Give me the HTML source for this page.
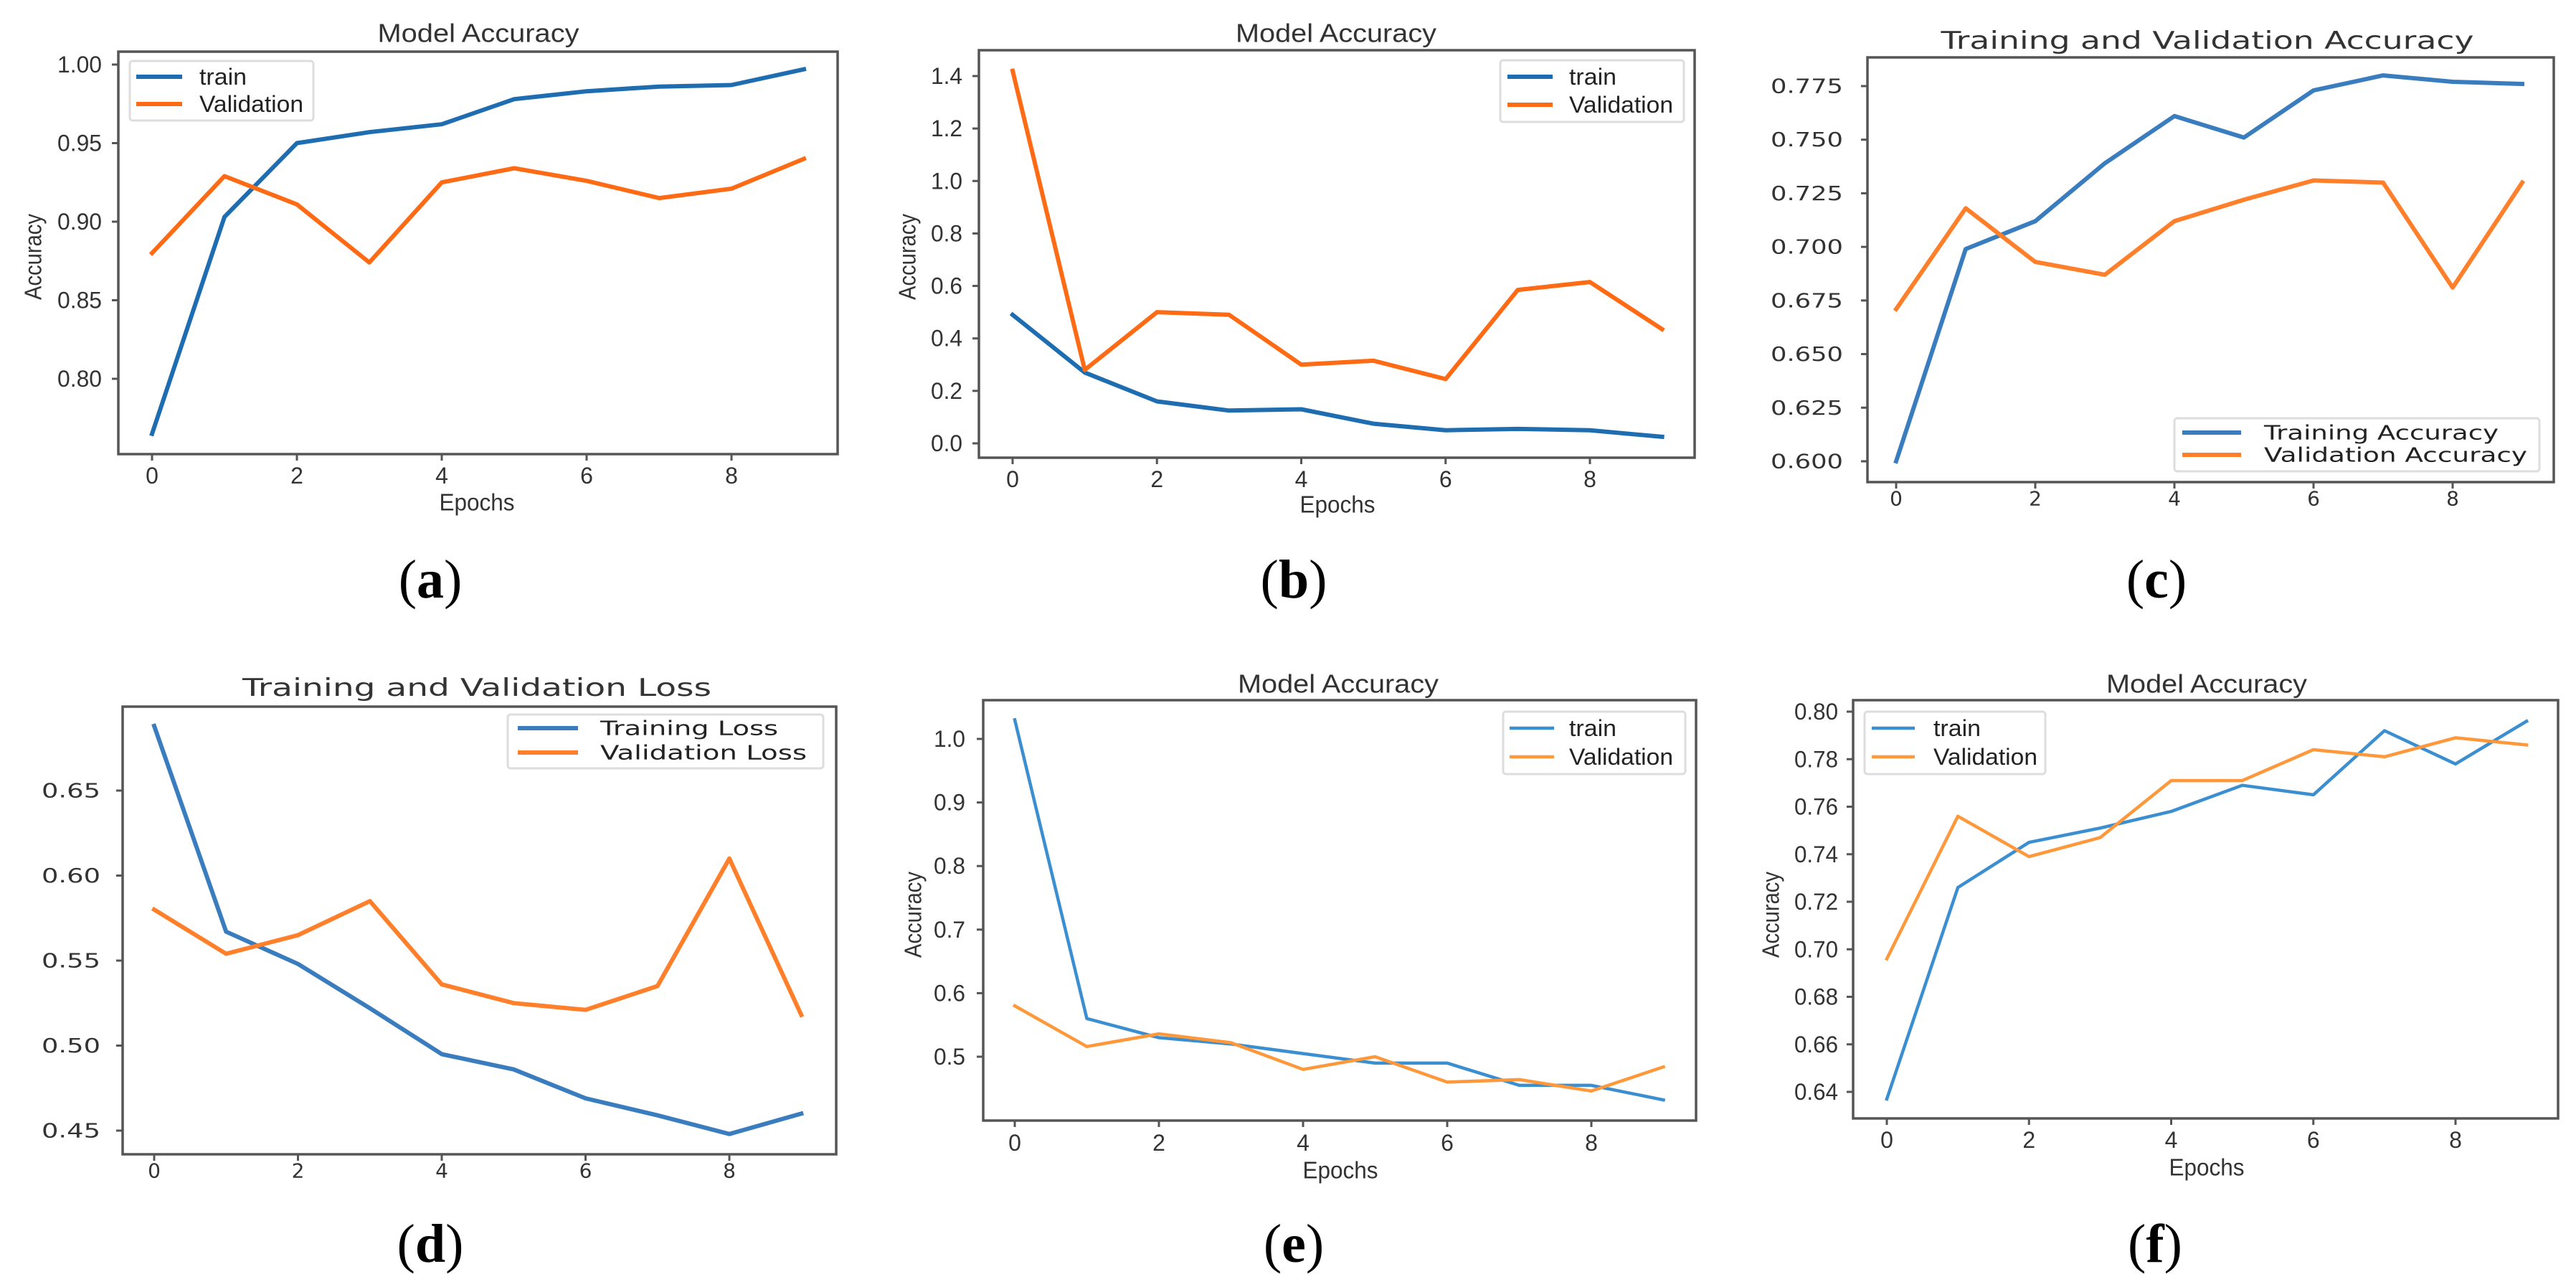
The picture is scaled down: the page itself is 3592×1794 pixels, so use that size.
<!DOCTYPE html>
<html><head><meta charset="utf-8">
<style>
html,body{margin:0;padding:0;background:#fff;}
svg{display:block;}
</style></head>
<body>
<svg id="fig" xmlns="http://www.w3.org/2000/svg" width="3592" height="1794" viewBox="0 0 3592 1794">
<rect x="0" y="0" width="3592" height="1794" fill="#fff"/>
</svg>
<script>
// ---- data (epochs 0..9) ----
const epochs = [0,1,2,3,4,5,6,7,8,9];
const aTrain = [0.765,0.903,0.950,0.957,0.962,0.978,0.983,0.986,0.987,0.997];
const aVal   = [0.880,0.929,0.911,0.874,0.925,0.934,0.926,0.915,0.921,0.940];
const aTicks = [0.80,0.85,0.90,0.95,1.00];
const aTickLabels = ["0.80","0.85","0.90","0.95","1.00"];
const bTrain = [0.49,0.27,0.16,0.125,0.13,0.075,0.05,0.055,0.05,0.025];
const bVal   = [1.42,0.28,0.50,0.49,0.30,0.315,0.245,0.585,0.615,0.435];
const bTicks = [0.0,0.2,0.4,0.6,0.8,1.0,1.2,1.4];
const bTickLabels = ["0.0","0.2","0.4","0.6","0.8","1.0","1.2","1.4"];
const cTrain = [0.600,0.699,0.712,0.739,0.761,0.751,0.773,0.780,0.777,0.776];
const cVal   = [0.671,0.718,0.693,0.687,0.712,0.722,0.731,0.730,0.681,0.730];
const cTicks = [0.600,0.625,0.650,0.675,0.700,0.725,0.750,0.775];
const cTickLabels = ["0.600","0.625","0.650","0.675","0.700","0.725","0.750","0.775"];
const dTrain = [0.688,0.567,0.548,0.522,0.495,0.486,0.469,0.459,0.448,0.460];
const dVal   = [0.580,0.554,0.565,0.585,0.536,0.525,0.521,0.535,0.610,0.518];
const dTicks = [0.45,0.50,0.55,0.60,0.65];
const dTickLabels = ["0.45","0.50","0.55","0.60","0.65"];
const eTrain = [1.03,0.56,0.53,0.52,0.505,0.49,0.49,0.455,0.455,0.432];
const eVal   = [0.58,0.516,0.536,0.522,0.48,0.50,0.46,0.464,0.446,0.484];
const eTicks = [0.5,0.6,0.7,0.8,0.9,1.0];
const eTickLabels = ["0.5","0.6","0.7","0.8","0.9","1.0"];
const fTrain = [0.637,0.726,0.745,0.751,0.758,0.769,0.765,0.792,0.778,0.796];
const fVal   = [0.696,0.756,0.739,0.747,0.771,0.771,0.784,0.781,0.789,0.786];
const fTicks = [0.64,0.66,0.68,0.70,0.72,0.74,0.76,0.78,0.80];
const fTickLabels = ["0.64","0.66","0.68","0.70","0.72","0.74","0.76","0.78","0.80"];
const xTicks = [0,2,4,6,8];

const NS = "http://www.w3.org/2000/svg";
const svg = document.getElementById('fig');
function mk(tag, attrs, parent){
  const e = document.createElementNS(NS, tag);
  for (const k in attrs) e.setAttribute(k, attrs[k]);
  (parent||svg).appendChild(e);
  return e;
}

const panels = [
 {id:'a', train:aTrain, val:aVal, ticks:aTicks, labels:aTickLabels,
  box:[165,72,1168,633], x0:212, x8:1020, yv1:0.80, yp1:528, yv2:1.00, yp2:90,
  title:'Model Accuracy', tx:667, ty:46, tw:281, xl:'Epochs', xlx:665, xly:700, yl:'Accuracy', ylx:46, yly:358,
  tickRight:142, tickW:62, xTickY:663, font:'"Liberation Sans", sans-serif', fs:32,
  cols:['#1f6db1','#ff6a14'], lw:6, names:['train','Validation'],
  leg:[181,85,437,168], legLine:[190,254], legText:278, legRows:[107,145], legW:[66,145],
  cap:'a', capx:600, capy:808},
 {id:'b', train:bTrain, val:bVal, ticks:bTicks, labels:bTickLabels,
  box:[1365,70,2363,638], x0:1412, x8:2217, yv1:0.0, yp1:618, yv2:1.4, yp2:106,
  title:'Model Accuracy', tx:1863, ty:46, tw:280, xl:'Epochs', xlx:1865, xly:703, yl:'Accuracy', ylx:1265, yly:358,
  tickRight:1342, tickW:44, xTickY:668, font:'"Liberation Sans", sans-serif', fs:32,
  cols:['#1f6db1','#ff6a14'], lw:6, names:['train','Validation'],
  leg:[2092,84,2348,170], legLine:[2102,2165], legText:2188, legRows:[107,146], legW:[66,145],
  cap:'b', capx:1804, capy:808},
 {id:'c', train:cTrain, val:cVal, ticks:cTicks, labels:cTickLabels,
  box:[2604,80,3561,672], x0:2644, x8:3420, yv1:0.600, yp1:643, yv2:0.775, yp2:120,
  title:'Training and Validation Accuracy', tx:3078, ty:57, tw:743, xl:null, yl:null,
  tickRight:2570, tickW:101, xTickY:695, font:'"DejaVu Sans", sans-serif', fs:28,
  cols:['#3a7dbf','#ff7f2a'], lw:6, names:['Training Accuracy','Validation Accuracy'],
  leg:[3032,583,3541,657], legLine:[3043,3125], legText:3157, legRows:[603,634], legW:[327,367],
  cap:'c', capx:3007, capy:808},
 {id:'d', train:dTrain, val:dVal, ticks:dTicks, labels:dTickLabels,
  box:[171,985,1166,1609], x0:215, x8:1017, yv1:0.45, yp1:1576, yv2:0.65, yp2:1102,
  title:'Training and Validation Loss', tx:665, ty:959, tw:654, xl:null, yl:null,
  tickRight:140, tickW:82, xTickY:1632, font:'"DejaVu Sans", sans-serif', fs:28,
  cols:['#3a7dbf','#ff7f2a'], lw:6, names:['Training Loss','Validation Loss'],
  leg:[708,996,1148,1071], legLine:[722,806], legText:837, legRows:[1015,1049], legW:[248,288],
  cap:'d', capx:600, capy:1734},
 {id:'e', train:eTrain, val:eVal, ticks:eTicks, labels:eTickLabels,
  box:[1371,976,2365,1562], x0:1415, x8:2219, yv1:0.5, yp1:1473, yv2:1.0, yp2:1030,
  title:'Model Accuracy', tx:1866, ty:953, tw:280, xl:'Epochs', xlx:1869, xly:1631, yl:'Accuracy', ylx:1273, yly:1275,
  tickRight:1346, tickW:44, xTickY:1593, font:'"Liberation Sans", sans-serif', fs:32,
  cols:['#3b8ed0','#ff983a'], lw:4.5, names:['train','Validation'],
  leg:[2096,992,2350,1079], legLine:[2105,2167], legText:2188, legRows:[1015,1055], legW:[66,145],
  cap:'e', capx:1804, capy:1734},
 {id:'f', train:fTrain, val:fVal, ticks:fTicks, labels:fTickLabels,
  box:[2584,976,3567,1559], x0:2631, x8:3424, yv1:0.64, yp1:1522, yv2:0.80, yp2:992,
  title:'Model Accuracy', tx:3077, ty:953, tw:280, xl:'Epochs', xlx:3077, xly:1627, yl:'Accuracy', ylx:2469, yly:1275,
  tickRight:2563, tickW:61, xTickY:1589, font:'"Liberation Sans", sans-serif', fs:32,
  cols:['#3b8ed0','#ff983a'], lw:4.5, names:['train','Validation'],
  leg:[2600,992,2852,1079], legLine:[2610,2670], legText:2696, legRows:[1015,1055], legW:[66,145],
  cap:'f', capx:3005, capy:1734}
];

panels.forEach(p => {
  const g = mk('g', {});
  
  
  const X = e => p.x0 + (p.x8 - p.x0) * e / 8;
  const Y = v => p.yp1 + (p.yp2 - p.yp1) * (v - p.yv1) / (p.yv2 - p.yv1);
  const [l,t,r,b] = p.box;
  const txtCol = '#333';

  // title
  const ti = mk('text', {x:p.tx, y:p.ty, 'text-anchor':'middle', 'dominant-baseline':'central',
    'font-family':p.font, 'font-size':p.id==='c'||p.id==='d'?34:36, fill:txtCol,
    textLength:p.tw, lengthAdjust:'spacingAndGlyphs'}, g);
  ti.textContent = p.title;
  
  

  // y ticks
  p.ticks.forEach((v,i) => {
    const yy = Y(v);
    const tk = mk('line', {x1:l-9, x2:l, y1:yy, y2:yy, stroke:'#555', 'stroke-width':3}, g);
    
    
    const tl = mk('text', {x:p.tickRight, y:yy, 'text-anchor':'end', 'dominant-baseline':'central',
      'font-family':p.font, 'font-size':p.fs, fill:txtCol, textLength:p.tickW, lengthAdjust:'spacingAndGlyphs'}, g);
    tl.textContent = p.labels[i];
    
    
  });
  // x ticks
  xTicks.forEach(e => {
    const xx = X(e);
    const tk = mk('line', {x1:xx, x2:xx, y1:b, y2:b+9, stroke:'#555', 'stroke-width':3}, g);
    
    
    const tl = mk('text', {x:xx, y:p.xTickY, 'text-anchor':'middle', 'dominant-baseline':'central',
      'font-family':p.font, 'font-size':p.fs, fill:txtCol}, g);
    tl.textContent = String(e);
    
    
  });
  // axis labels
  if (p.xl) {
    const xl = mk('text', {x:p.xlx, y:p.xly, 'text-anchor':'middle', 'dominant-baseline':'central',
      'font-family':p.font, 'font-size':33, fill:txtCol, textLength:105, lengthAdjust:'spacingAndGlyphs'}, g);
    xl.textContent = p.xl;
    
    
  }
  if (p.yl) {
    const yl = mk('text', {x:0, y:0, 'text-anchor':'middle', 'dominant-baseline':'central',
      'font-family':p.font, 'font-size':33, fill:txtCol, textLength:120, lengthAdjust:'spacingAndGlyphs',
      transform:'translate(' + p.ylx + ',' + p.yly + ') rotate(-90)'}, g);
    yl.textContent = p.yl;
    
    
  }
  // series
  [p.train, p.val].forEach((s,k) => {
    const pts = s.map((v,i) => X(epochs[i]).toFixed(1) + ',' + Y(v).toFixed(1)).join(' ');
    const pl = mk('polyline', {points:pts, fill:'none', stroke:p.cols[k], 'stroke-width':p.lw,
      'stroke-linejoin':'round', 'stroke-linecap':'square'}, g);
    
    
  });
  // frame
  const fr = mk('rect', {x:l, y:t, width:r-l, height:b-t, fill:'none', stroke:'#555', 'stroke-width':3.5}, g);
  
  
  // legend
  const [lx1,ly1,lx2,ly2] = p.leg;
  const lg = mk('g', {}, g);
  
  
  mk('rect', {x:lx1, y:ly1, width:lx2-lx1, height:ly2-ly1, rx:4, fill:'#fff', stroke:'#ddd', 'stroke-width':3}, lg);
  p.names.forEach((n,k) => {
    const yy = p.legRows[k];
    const ln = mk('line', {x1:p.legLine[0], x2:p.legLine[1], y1:yy, y2:yy, stroke:p.cols[k], 'stroke-width':p.lw}, lg);
    
    
    const tx = mk('text', {x:p.legText, y:yy, 'dominant-baseline':'central', 'font-family':p.font,
      'font-size':p.fs, fill:'#222', textLength:p.legW[k], lengthAdjust:'spacingAndGlyphs'}, lg);
    tx.textContent = n;
    
    
  });
  // caption
  const cp = mk('text', {x:p.capx, y:p.capy, 'text-anchor':'middle', 'dominant-baseline':'central',
    'font-family':'"Liberation Serif", serif', 'font-size':76, fill:'#000'}, g);
  cp.appendChild(document.createTextNode('('));
  const bt = mk('tspan', {'font-weight':'bold'}, cp);
  bt.textContent = p.cap;
  cp.appendChild(document.createTextNode(')'));
  
  
});
</script>
</body></html>
